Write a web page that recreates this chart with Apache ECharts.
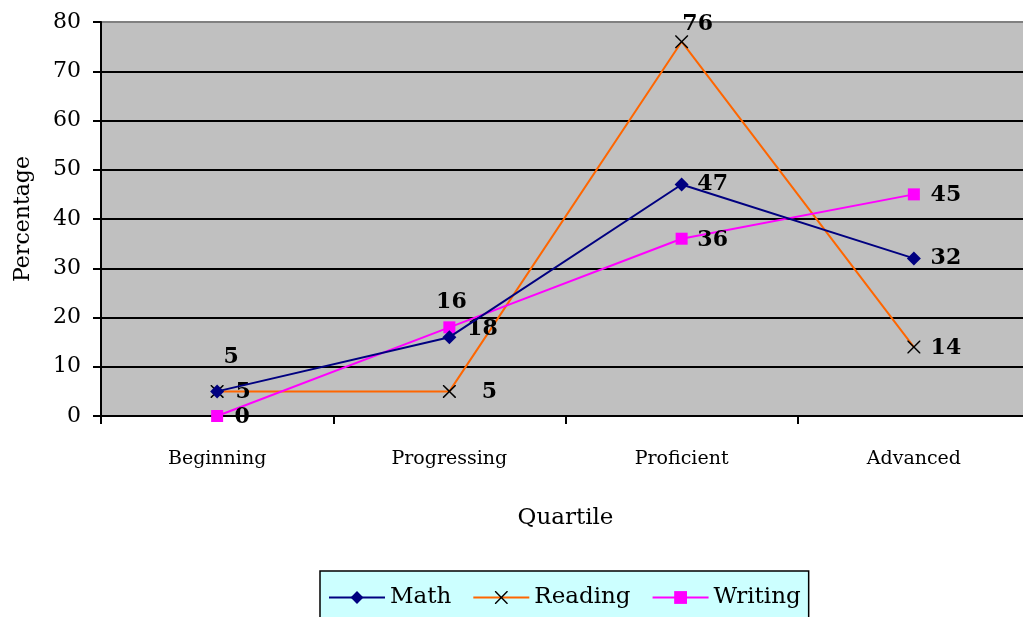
<!DOCTYPE html>
<html>
<head>
<meta charset="utf-8">
<script src="https://cdn.jsdelivr.net/npm/echarts@6/dist/echarts.min.js"></script>
<style>html,body{margin:0;padding:0;background:#fff;overflow:hidden;}#c{width:1023px;height:617px;}</style>
</head>
<body>
<div id="c"></div>
<script>
const categories = ['Beginning', 'Progressing', 'Proficient', 'Advanced'];
const mathValues = [5, 16, 47, 32];
const readingValues = [5, 5, 76, 14];
const writingValues = [0, 18, 36, 45];
const yTicks = { min: 0, max: 80, interval: 10 };

// label offsets (px) relative to each point
const mathLabelOffsets = [[14, -34], [2, -35], [31, 0], [32, 0]];
const readingLabelOffsets = [[26, 1], [40, 1], [16, -17], [32, 1]];
const writingLabelOffsets = [[25, 1], [33, 2], [31, 2], [32, 1]];

const FONT = 'DejaVu Serif';
const xPath = 'path://M0,0 L1.6,0 L10,8.4 L18.4,0 L20,0 L20,1.6 L11.6,10 L20,18.4 L20,20 L18.4,20 L10,11.6 L1.6,20 L0,20 L0,18.4 L8.4,10 L0,1.6 Z';

function withLabels(values, offsets) {
  return values.map((v, i) => ({
    value: v,
    label: { show: true, position: 'inside', offset: offsets[i] }
  }));
}
const labelStyle = { color: '#000', fontFamily: FONT, fontWeight: 'bold', fontSize: 22 };
const gridLineColors = ['#000', '#000', '#000', '#000', '#000', '#000', '#000', '#000', '#808080'];

const chart = echarts.init(document.getElementById('c'), null, { renderer: 'canvas' });
chart.setOption({
  animation: false,
  textStyle: { fontFamily: FONT },
  grid: {
    left: 101, right: -7, top: 22, bottom: 201,
    containLabel: false, outerBoundsMode: 'none',
    show: true, backgroundColor: '#C0C0C0', borderColor: '#808080', borderWidth: 1
  },
  legend: {
    data: ['Math', 'Reading', 'Writing'],
    left: 320, top: 571,
    padding: [15, 8, 20, 8],
    itemWidth: 56, itemHeight: 16, itemGap: 21,
    backgroundColor: '#CCFFFF', borderColor: '#000', borderWidth: 1.5, borderRadius: 0,
    textStyle: { fontFamily: FONT, fontSize: 23, color: '#000' }
  },
  xAxis: {
    type: 'category', data: categories, boundaryGap: true,
    name: 'Quartile', nameLocation: 'middle', nameGap: 91,
    nameTextStyle: { fontFamily: FONT, fontSize: 23, color: '#000' },
    axisLine: { lineStyle: { color: '#000', width: 2 } },
    axisTick: { show: true, length: 8, lineStyle: { color: '#000', width: 2 } },
    axisLabel: { fontFamily: FONT, fontSize: 19, color: '#000', margin: 34 },
    splitLine: { show: false }
  },
  yAxis: {
    type: 'value', min: yTicks.min, max: yTicks.max, interval: yTicks.interval,
    name: 'Percentage', nameLocation: 'middle', nameGap: 67, nameRotate: 90,
    nameTextStyle: { fontFamily: FONT, fontSize: 22, color: '#000' },
    axisLine: { show: true, lineStyle: { color: '#000', width: 2 } },
    axisTick: { show: true, length: 8, lineStyle: { color: '#000', width: 2 } },
    axisLabel: { fontFamily: FONT, fontSize: 22, color: '#000', margin: 20 },
    splitLine: { show: true, lineStyle: { color: gridLineColors, width: 2 } }
  },
  series: [
    {
      name: 'Math', type: 'line', data: withLabels(mathValues, mathLabelOffsets),
      symbol: 'diamond', symbolSize: 14, showAllSymbol: true,
      lineStyle: { color: '#000080', width: 2 },
      itemStyle: { color: '#000080' },
      label: labelStyle, z: 3
    },
    {
      name: 'Reading', type: 'line', data: withLabels(readingValues, readingLabelOffsets),
      symbol: xPath, symbolSize: 13, showAllSymbol: true,
      lineStyle: { color: '#FF6600', width: 2 },
      itemStyle: { color: '#000' },
      label: labelStyle, z: 2
    },
    {
      name: 'Writing', type: 'line', data: withLabels(writingValues, writingLabelOffsets),
      symbol: 'rect', symbolSize: 12, showAllSymbol: true,
      lineStyle: { color: '#FF00FF', width: 2 },
      itemStyle: { color: '#FF00FF' },
      label: labelStyle, z: 2
    }
  ]
});
</script>
</body>
</html>
